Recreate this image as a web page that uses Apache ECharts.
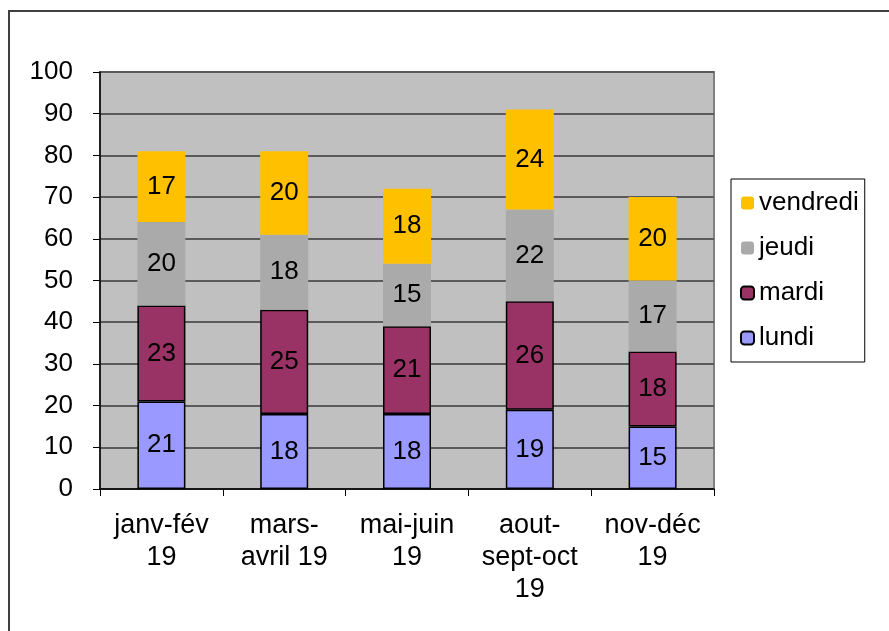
<!DOCTYPE html>
<html>
<head>
<meta charset="utf-8">
<script src="https://cdn.jsdelivr.net/npm/echarts@6/dist/echarts.min.js"></script>
<style>html,body{margin:0;padding:0;background:#fff}#c{width:889px;height:631px}</style>
</head>
<body>
<div id="c"></div>
<script>
const categories = ['janv-fév\n19', 'mars-\navril 19', 'mai-juin\n19', 'aout-\nsept-oct\n19', 'nov-déc\n19'];
const lundi = [21, 18, 18, 19, 15];
const mardi = [23, 25, 21, 26, 18];
const jeudi = [20, 18, 15, 22, 17];
const vendredi = [17, 20, 18, 24, 20];
const yTicks = { min: 0, max: 100, interval: 10 };

const FONT = '"Liberation Sans", Arial, sans-serif';
const chart = echarts.init(document.getElementById('c'), null, { renderer: 'canvas' });

function mk(name, data, color, border) {
  return {
    name, type: 'bar', stack: 'total', data, barWidth: 48,
    itemStyle: { color, borderColor: border ? '#000' : color, borderWidth: border ? 1.5 : 0 },
    label: { show: true, position: 'inside', color: '#000', fontSize: 26, fontFamily: FONT },
    emphasis: { disabled: true }
  };
}

chart.setOption({
  animation: false,
  textStyle: { fontFamily: FONT },
  graphic: [{
    type: 'rect', shape: { x: 9, y: 11, width: 1000, height: 800 },
    style: { fill: 'none', stroke: '#404040', lineWidth: 2 }, silent: true
  }],
  grid: {
    left: 100, right: 175, top: 72, bottom: 142,
    show: true, backgroundColor: '#c0c0c0', borderColor: '#808080', borderWidth: 2
  },
  legend: {
    orient: 'vertical', left: 731, top: 179,
    data: ['vendredi', 'jeudi', 'mardi', 'lundi'],
    itemWidth: 13, itemHeight: 13, itemGap: 17,
    padding: [10, 6, 10, 9],
    borderColor: '#000', borderWidth: 1,
    textStyle: { fontSize: 26, color: '#000', fontFamily: FONT, lineHeight: 28 },
    selectedMode: false
  },
  xAxis: {
    type: 'category', data: categories,
    axisLine: { lineStyle: { color: '#000', width: 1.5 } },
    axisTick: { show: true, length: 7, lineStyle: { color: '#000' } },
    axisLabel: { fontSize: 27, color: '#000', lineHeight: 32, margin: 21, interval: 0, fontFamily: FONT }
  },
  yAxis: {
    type: 'value', min: yTicks.min, max: yTicks.max, interval: yTicks.interval,
    axisLine: { show: true, lineStyle: { color: '#000', width: 1.5 } },
    axisTick: { show: true, length: 7, lineStyle: { color: '#000' } },
    axisLabel: { fontSize: 26, color: '#000', margin: 27, fontFamily: FONT },
    splitLine: { lineStyle: { color: '#5a5a5a', width: 2 } }
  },
  series: [
    mk('lundi', lundi, '#9999ff', true),
    mk('mardi', mardi, '#993366', true),
    mk('jeudi', jeudi, '#aaaaaa', false),
    mk('vendredi', vendredi, '#ffc000', false)
  ]
});
</script>
</body>
</html>
